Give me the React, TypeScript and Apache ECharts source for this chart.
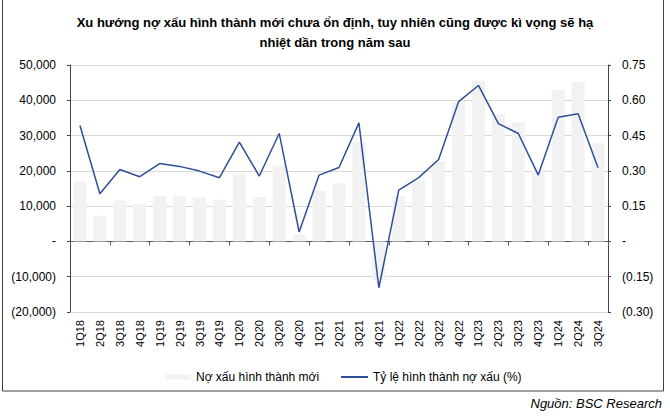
import React, { useEffect, useRef } from "react";
import * as echarts from "echarts";

const categories = [
  "1Q18", "2Q18", "3Q18", "4Q18", "1Q19", "2Q19", "3Q19", "4Q19", "1Q20", "2Q20",
  "3Q20", "4Q20", "1Q21", "2Q21", "3Q21", "4Q21", "1Q22", "2Q22", "3Q22", "4Q22",
  "1Q23", "2Q23", "3Q23", "4Q23", "1Q24", "2Q24", "3Q24",
];

const newNpl = [
  17000, 7300, 11600, 10500, 12800, 12800, 12500, 11800, 19200, 12600,
  21500, 2000, 14400, 16500, 28100, -11000, 12800, 17100, 22700, 39600,
  45600, 36200, 33800, 20400, 42900, 45200, 27800,
];

const nplRatio = [
  0.493, 0.203, 0.306, 0.275, 0.331, 0.319, 0.299, 0.271, 0.422, 0.278,
  0.459, 0.04, 0.282, 0.314, 0.504, -0.197, 0.218, 0.271, 0.348, 0.594,
  0.663, 0.501, 0.459, 0.282, 0.528, 0.543, 0.313,
];

const titleText = "Xu hướng nợ xấu hình thành mới chưa ổn định, tuy nhiên cũng được kì vọng sẽ hạ\nnhiệt dần trong năm sau";
const sourceText = "Nguồn: BSC Research";
const barName = "Nợ xấu hình thành mới";
const lineName = "Tỷ lệ hình thành nợ xấu (%)";

const FONT = "'Liberation Sans', Arial, sans-serif";

function fmtLeft(v: number): string {
  if (Math.abs(v) < 1e-9) return "-";
  const s = Math.abs(Math.round(v)).toLocaleString("en-US");
  return v < 0 ? `(${s})` : s;
}

function fmtRight(v: number): string {
  if (Math.abs(v) < 1e-9) return "-";
  const s = Math.abs(v).toFixed(2);
  return v < 0 ? `(${s})` : s;
}

export default function App() {
  const ref = useRef<HTMLDivElement>(null);

  useEffect(() => {
    if (!ref.current) return;
    const chart = echarts.init(ref.current, undefined, { renderer: "svg" });
    chart.setOption({
      animation: false,
      backgroundColor: "#ffffff",
      textStyle: { fontFamily: FONT },
      title: {
        text: titleText,
        left: "center",
        top: 7,
        textStyle: {
          fontFamily: FONT,
          fontSize: 13,
          fontWeight: "bold",
          color: "#000000",
          lineHeight: 20,
        },
      },
      graphic: [
        {
          type: "rect",
          shape: { x: 2.5, y: -5, width: 661, height: 396 },
          style: { fill: "none", stroke: "#404040", lineWidth: 1 },
          silent: true,
        },
        {
          type: "text",
          right: 8,
          top: 397,
          style: {
            text: sourceText,
            font: `italic 13px ${FONT}`,
            fill: "#000000",
          },
        },
      ],
      legend: [
        {
          left: 160,
          top: 366,
          itemWidth: 26,
          itemHeight: 5,
          textStyle: { fontFamily: FONT, fontSize: 12, color: "#000000" },
          data: [{ name: barName, icon: "rect" }],
        },
        {
          left: 336,
          top: 366,
          itemWidth: 27,
          itemHeight: 2,
          textStyle: { fontFamily: FONT, fontSize: 12, color: "#000000" },
          data: [{ name: lineName, icon: "rect" }],
        },
      ],
      grid: { left: 70, right: 62, top: 65, bottom: 105, containLabel: false },
      xAxis: [
        {
          type: "category",
          data: categories,
          position: "bottom",
          axisLine: { show: true, onZero: true, lineStyle: { color: "#595959", width: 1 } },
          axisTick: { show: true, length: 4, inside: false, lineStyle: { color: "#595959" } },
          axisLabel: { show: false },
          splitLine: { show: false },
        },
        {
          type: "category",
          data: categories,
          position: "bottom",
          axisLine: { show: false, onZero: false },
          axisTick: { show: false },
          axisLabel: {
            show: true,
            rotate: 90,
            interval: 0,
            margin: 8,
            fontFamily: FONT,
            fontSize: 11,
            color: "#000000",
          },
          splitLine: { show: false },
        },
      ],
      yAxis: [
        {
          type: "value",
          min: -20000,
          max: 50000,
          interval: 10000,
          position: "left",
          axisLine: { show: true, lineStyle: { color: "#404040" } },
          axisTick: { show: true, length: 3, inside: false, lineStyle: { color: "#404040" } },
          axisLabel: {
            formatter: fmtLeft,
            margin: 14,
            fontFamily: FONT,
            fontSize: 12,
            color: "#000000",
          },
          splitLine: { show: true, lineStyle: { color: "#D9D9D9", width: 1 } },
        },
        {
          type: "value",
          min: -0.3,
          max: 0.75,
          interval: 0.15,
          position: "right",
          axisLine: { show: true, lineStyle: { color: "#404040" } },
          axisTick: { show: true, length: 3, inside: false, lineStyle: { color: "#404040" } },
          axisLabel: {
            formatter: fmtRight,
            margin: 14,
            fontFamily: FONT,
            fontSize: 12,
            color: "#000000",
          },
          splitLine: { show: false },
        },
      ],
      series: [
        {
          name: barName,
          type: "bar",
          xAxisIndex: 0,
          yAxisIndex: 0,
          data: newNpl,
          barWidth: 13,
          itemStyle: { color: "#F2F2F2" },
          z: 1,
        },
        {
          name: lineName,
          type: "line",
          xAxisIndex: 0,
          yAxisIndex: 1,
          data: nplRatio,
          symbol: "none",
          showSymbol: false,
          lineStyle: { color: "#2F4F98", width: 1.5 },
          itemStyle: { color: "#2F4F98" },
          z: 3,
        },
      ],
    });
    return () => chart.dispose();
  }, []);

  return <div ref={ref} style={{ width: 670, height: 417, position: "absolute", left: 0, top: 0 }} />;
}
